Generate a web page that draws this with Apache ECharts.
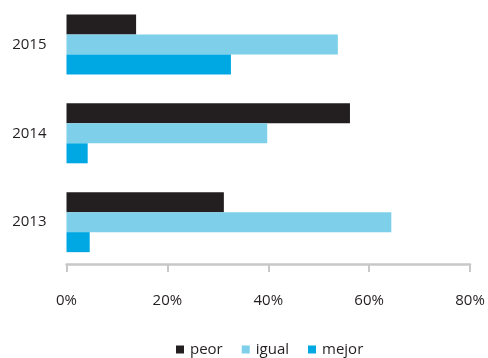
<!DOCTYPE html>
<html>
<head>
<meta charset="utf-8">
<script src="https://cdn.jsdelivr.net/npm/echarts@6/dist/echarts.min.js"></script>
<style>
html,body{margin:0;padding:0;background:#fff;}
#chart{width:488px;height:358px;}
</style>
</head>
<body>
<div id="chart"></div>
<script>
var categories = ['2015', '2014', '2013'];
var seriesNames = ['peor', 'igual', 'mejor'];
var peor = [13.8, 56.2, 31.2];
var igual = [53.8, 39.8, 64.4];
var mejor = [32.6, 4.2, 4.6];
var xTicks = [0, 20, 40, 60, 80];

var colors = ['#231f20', '#7dcfea', '#00a8e3'];
var font = 'Open Sans';
var chart = echarts.init(document.getElementById('chart'));
chart.setOption({
  animation: false,
  color: colors,
  textStyle: { fontFamily: font },
  grid: { left: 66.5, right: 18, top: -1.4, height: 268 },
  legend: {
    data: seriesNames,
    top: 342,
    left: 176,
    padding: 0,
    itemWidth: 8,
    itemHeight: 8,
    itemGap: 19,
    icon: 'rect',
    textStyle: { fontFamily: font, fontSize: 15, color: '#231f20', padding: [0, 0, 0, 1] }
  },
  xAxis: {
    type: 'value',
    min: xTicks[0],
    max: xTicks[xTicks.length - 1],
    interval: 20,
    offset: -2.7,
    splitLine: { show: false },
    axisLine: { show: true, lineStyle: { color: '#c8c8c8', width: 2.5 } },
    axisTick: { show: true, length: 8, lineStyle: { color: '#c8c8c8', width: 2 } },
    axisLabel: { margin: 29, fontSize: 15, color: '#231f20', fontFamily: font, formatter: '{value}%' }
  },
  yAxis: {
    type: 'category',
    data: categories,
    inverse: true,
    axisLine: { show: false },
    axisTick: { show: false },
    axisLabel: { margin: 20, fontSize: 15, color: '#231f20', fontFamily: font }
  },
  series: [
    { name: seriesNames[0], type: 'bar', data: peor, barWidth: 20, barGap: '0%' },
    { name: seriesNames[1], type: 'bar', data: igual, barWidth: 20, barGap: '0%' },
    { name: seriesNames[2], type: 'bar', data: mejor, barWidth: 20, barGap: '0%' }
  ]
});
</script>
</body>
</html>
